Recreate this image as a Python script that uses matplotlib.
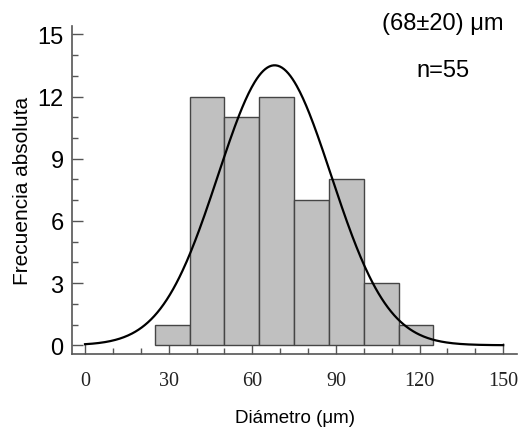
import numpy as np
import matplotlib
matplotlib.use("Agg")
import matplotlib.pyplot as plt
from matplotlib.ticker import MultipleLocator

# Data
bin_edges = [25, 37.5, 50, 62.5, 75, 87.5, 100, 112.5, 125]
counts = [1, 12, 11, 12, 7, 8, 3, 1]
n_total = 55
fit_mean = 68
fit_sd = 20.3
x_ticks = [0, 30, 60, 90, 120, 150]
y_ticks = [0, 3, 6, 9, 12, 15]
annot_stats = "(68±20) μm"
annot_n = "n=55"

fig = plt.figure(figsize=(5.25, 4.31), dpi=100)
ax = fig.add_axes([0.137, 0.176, 0.848, 0.761])

lefts = bin_edges[:-1]
widths = np.diff(bin_edges)
ax.bar(lefts, counts, width=widths, align="edge", color="#c0c0c0",
       edgecolor="#454545", linewidth=1.0, zorder=2)

bw = widths[0]
xs = np.linspace(0, 150, 400)
ys = n_total * bw / (fit_sd * np.sqrt(2 * np.pi)) * np.exp(-0.5 * ((xs - fit_mean) / fit_sd) ** 2)
ax.plot(xs, ys, color="black", linewidth=1.6, zorder=3)

ax.set_xlim(-4.7, 155)
ax.set_ylim(-0.43, 15.4)
ax.spines["top"].set_visible(False)
ax.spines["right"].set_visible(False)
for s in ("left", "bottom"):
    ax.spines[s].set_color("#555555")
    ax.spines[s].set_linewidth(1.2)

ax.set_xticks(x_ticks)
ax.set_yticks(y_ticks)
ax.xaxis.set_minor_locator(MultipleLocator(10))
ax.yaxis.set_minor_locator(MultipleLocator(1))
ax.tick_params(axis="both", which="major", direction="in", length=8, width=1, color="#555555")
ax.tick_params(axis="both", which="minor", direction="in", length=4, width=1, color="#555555")
ax.tick_params(axis="x", which="major", pad=12)
ax.tick_params(axis="y", which="major", pad=6)

for lab in ax.get_xticklabels():
    lab.set_fontfamily("Liberation Serif")
    lab.set_fontsize(14.5)
    lab.set_color("#222222")
for lab in ax.get_yticklabels():
    lab.set_fontfamily("Liberation Sans")
    lab.set_fontsize(17)

ax.set_xlabel("Diámetro (μm)", fontfamily="Liberation Sans", fontsize=13.5, labelpad=14)
ax.set_ylabel("Frecuencia absoluta", fontfamily="Liberation Sans", fontsize=15, labelpad=4)

fig.text(443 / 525, 1 - 24 / 431, annot_stats, ha="center", va="center",
         fontfamily="Liberation Sans", fontsize=17)
fig.text(443 / 525, 1 - 71 / 431, annot_n, ha="center", va="center",
         fontfamily="Liberation Sans", fontsize=17)

fig.savefig("out.png", dpi=100)
